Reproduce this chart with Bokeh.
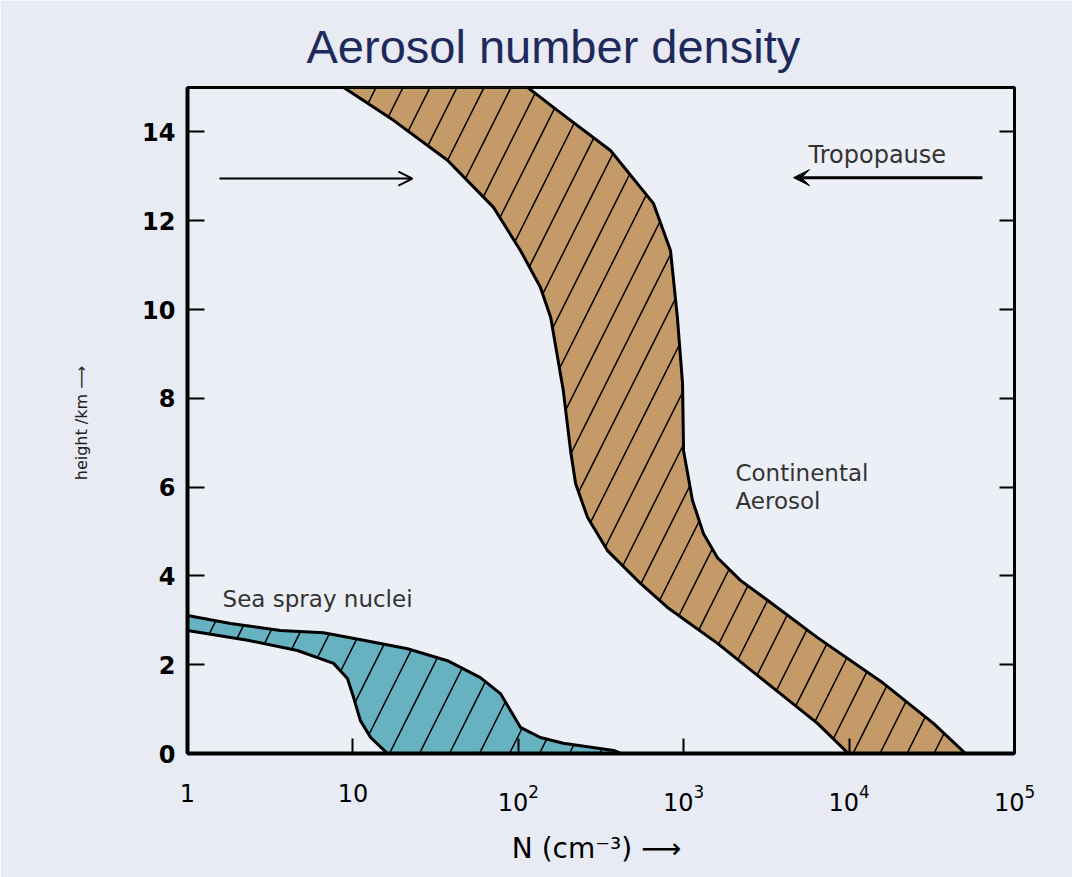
from bokeh.plotting import figure
from bokeh.models import (ColumnDataSource, Label, Arrow, OpenHead, VeeHead,
                          LinearAxis, FixedTicker, LogTickFormatter, Range1d, CustomJSTickFormatter)
from bokeh.embed import file_html
from bokeh.resources import INLINE

# ---------------- data ----------------
title_text = "Aerosol number density"
x_label = "N (cm⁻³)  ⟶"
y_label = "height /km  ⟶"
x_ticks = [1, 10, 100, 1000, 10000, 100000]
y_ticks = [0, 2, 4, 6, 8, 10, 12, 14]

# Continental aerosol band: left (low N) and right (high N) edges
cont_left_km = [15, 14.26, 13.36, 12.30, 11.33, 10.50, 9.82, 8.18, 6.82, 6.08, 5.32, 4.57, 3.83, 3.29, 2.48, 1.58, 0.68, 0]
cont_left_N = [8.8, 17.6, 37.3, 70.8, 103, 136, 157, 187, 207, 222, 262, 346, 548, 798, 1600, 3210, 6440, 9900]
cont_right_km = [15, 14.48, 13.58, 12.39, 11.33, 9.82, 8.33, 6.82, 5.70, 4.95, 4.41, 3.90, 3.45, 2.61, 1.58, 0.68, 0]
cont_right_N = [114, 173, 361, 656, 832, 916, 984, 998, 1130, 1318, 1600, 2203, 3214, 6442, 16140, 32360, 50580]

# Sea spray nuclei band: upper and lower edges
sea_upper_N = [1, 1.82, 3.65, 6.64, 11.6, 21.4, 37.3, 59.0, 78.0, 89.7, 103, 136, 187, 377, 417]
sea_upper_km = [3.11, 2.93, 2.77, 2.72, 2.55, 2.36, 2.09, 1.71, 1.35, 0.97, 0.59, 0.36, 0.23, 0.07, 0]
sea_lower_N = [1, 2.31, 4.62, 7.64, 9.27, 10.1, 11.1, 12.8, 16.2]
sea_lower_km = [2.77, 2.55, 2.32, 2.03, 1.69, 1.26, 0.74, 0.36, 0]

# ---------------- figure ----------------
p = figure(width=1072, height=877, x_axis_type="log",
           x_range=Range1d(1, 1e5), y_range=Range1d(0, 15),
           output_backend="svg", toolbar_location=None,
           min_border_left=187, min_border_right=58, min_border_top=87, min_border_bottom=124)
p.background_fill_color = "#ECEFF6"
p.border_fill_color = "#E8EBF3"
p.outline_line_color = "black"
p.outline_line_width = 3
p.grid.visible = False

p.title.text = title_text
p.title.align = "left"
p.title.offset = 119
p.title.standoff = 30
p.title.text_font = "Liberation Sans"
p.title.text_font_style = "normal"
p.title.text_font_size = "47px"
p.title.text_color = "#1F2A5C"

cont_src = ColumnDataSource(dict(x=cont_left_N + cont_right_N[::-1],
                                 y=cont_left_km + cont_right_km[::-1]))
p.patch("x", "y", source=cont_src, fill_color="#C49A69", line_color="black", line_width=3,
        hatch_pattern="/", hatch_scale=54, hatch_weight=1.5, hatch_color="black")

sea_src = ColumnDataSource(dict(x=sea_upper_N + sea_lower_N[::-1],
                                y=sea_upper_km + sea_lower_km[::-1]))
p.patch("x", "y", source=sea_src, fill_color="#66B2C0", line_color="black", line_width=3,
        hatch_pattern="/", hatch_scale=60, hatch_weight=1.5, hatch_color="black")

# ---------------- axes ----------------
xa = p.xaxis[0]
xa.ticker = FixedTicker(ticks=x_ticks, minor_ticks=[])
xa.formatter = LogTickFormatter(min_exponent=2)
xa.major_tick_in = 15
xa.major_tick_out = 0
xa.major_tick_line_width = 2
xa.axis_line_width = 4
xa.major_label_standoff = 30
xa.major_label_text_font = "DejaVu Sans"
xa.major_label_text_font_size = "24px"
xa.major_label_text_color = "black"
xa.axis_label = x_label
xa.axis_label_standoff = 18
xa.axis_label_text_font = "DejaVu Sans"
xa.axis_label_text_font_style = "normal"
xa.axis_label_text_font_size = "28px"
xa.axis_label_text_color = "black"

ya = p.yaxis[0]
ya.ticker = FixedTicker(ticks=y_ticks, minor_ticks=[])
ya.major_tick_in = 17
ya.major_tick_out = 0
ya.major_tick_line_width = 2
ya.axis_line_width = 4
ya.major_label_standoff = 12
ya.major_label_text_font = "DejaVu Sans"
ya.major_label_text_font_style = "bold"
ya.major_label_text_font_size = "24px"
ya.major_label_text_color = "black"
ya.axis_label = y_label
ya.axis_label_standoff = 48
ya.axis_label_text_font = "DejaVu Sans"
ya.axis_label_text_font_style = "normal"
ya.axis_label_text_font_size = "16px"
ya.axis_label_text_color = "#222222"

ra = LinearAxis(ticker=FixedTicker(ticks=y_ticks, minor_ticks=[]),
                formatter=CustomJSTickFormatter(code="return ''"),
                major_tick_in=15, major_tick_out=0, major_tick_line_width=2,
                axis_line_width=3, major_label_standoff=0)
p.add_layout(ra, "right")

# ---------------- texts inside the frame ----------------
for x, y, t, fs in [(5690, 13.47, "Tropopause", "24px"), (2056, 6.31, "Continental", "23px"),
                    (2056, 5.68, "Aerosol", "23px"), (1.63, 3.47, "Sea spray nuclei", "23px")]:
    p.add_layout(Label(x=x, y=y, text=t, text_font="DejaVu Sans", text_font_size=fs,
                       text_color="#333333", text_align="left", text_baseline="alphabetic"))

# ---------------- tropopause arrows ----------------
p.add_layout(Arrow(end=OpenHead(size=14, line_width=2), x_start=1.56, y_start=12.95,
                   x_end=22.9, y_end=12.95, line_width=2))
p.add_layout(Arrow(end=VeeHead(size=16, fill_color="black", line_color="black"),
                   x_start=64000, y_start=12.97, x_end=4613, y_end=12.97, line_width=3))

open("out.html", "w").write(file_html(p, INLINE))
